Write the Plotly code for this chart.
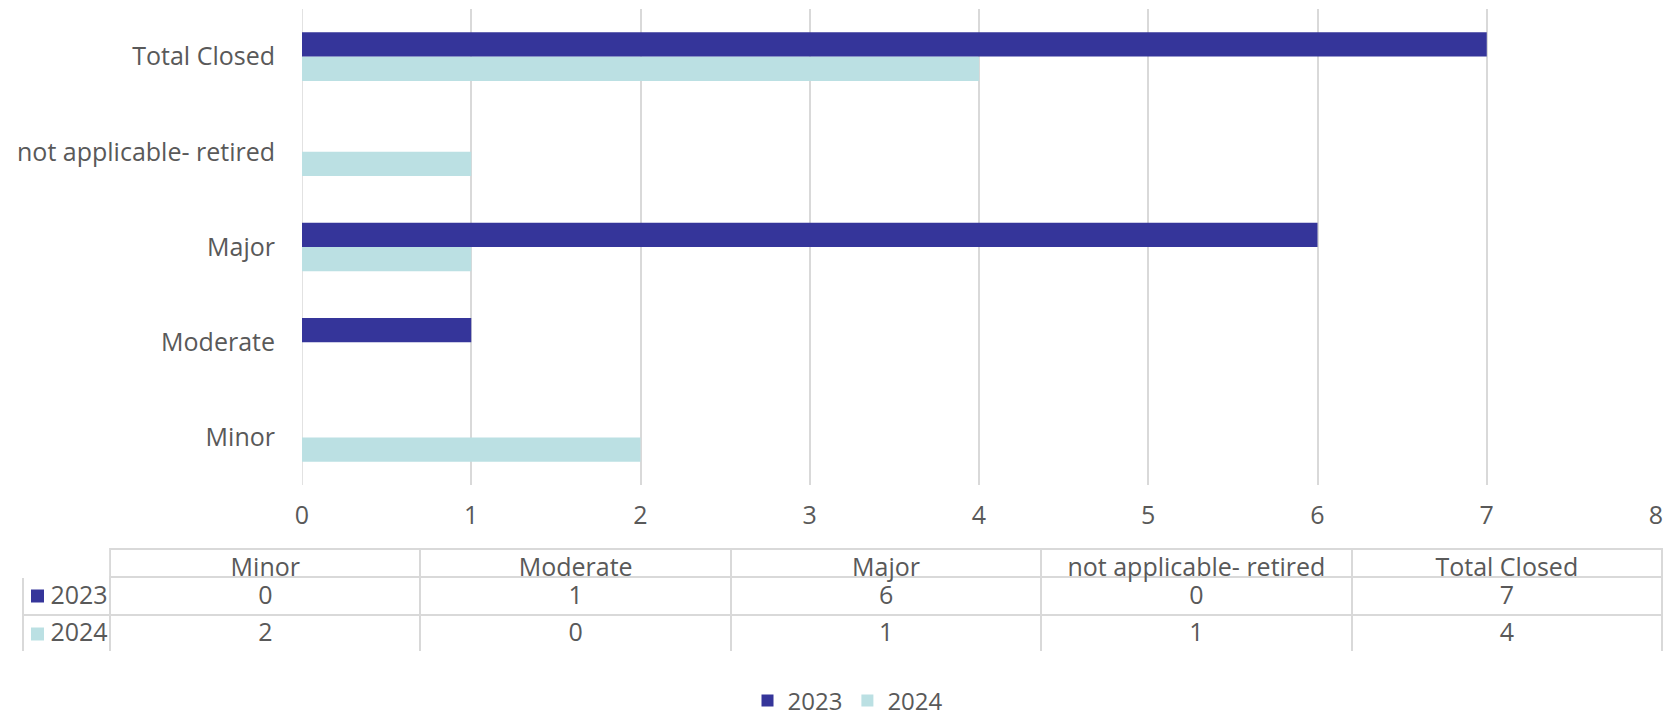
import plotly.graph_objects as go

categories = ['Minor', 'Moderate', 'Major', 'not applicable- retired', 'Total Closed']
vals_2023 = [0, 1, 6, 0, 7]
vals_2024 = [2, 0, 1, 1, 4]
series_names = ['2023', '2024']
x_ticks = [0, 1, 2, 3, 4, 5, 6, 7, 8]

col_2023 = '#35359a'
col_2024 = '#bbe0e3'
grey_txt = '#595959'
grid = '#d9d9d9'
font_fam = 'Open Sans, Lato, sans-serif'

# page body adds an 8px margin, so the figure is 8px smaller and every
# screen position below is shifted by that offset
OFF = 8
W, H = 1674 - OFF, 716 - OFF


def fx(px):
    return (px - OFF) / W


def fy(py):
    return 1 - (py - OFF) / H


fig = go.Figure()
# 2024 added first so that 2023 sits on top in each group
fig.add_trace(go.Bar(name=series_names[1], y=categories, x=vals_2024, orientation='h',
                     marker=dict(color=col_2024, line=dict(width=0))))
fig.add_trace(go.Bar(name=series_names[0], y=categories, x=vals_2023, orientation='h',
                     marker=dict(color=col_2023, line=dict(width=0))))

# data table under the chart
nb = '\u00a0'
first_col = [nb * 3 + s for s in series_names]
cell_cols = [first_col] + [[a, b] for a, b in zip(vals_2023, vals_2024)]
tbl_top, tbl_bot = 549, 652
fig.add_trace(go.Table(
    domain=dict(x=[fx(23), fx(1662)], y=[fy(tbl_bot), fy(tbl_top)]),
    columnwidth=[87] + [310] * len(categories),
    header=dict(values=[''] + categories, height=28,
                line=dict(color=['white'] + [grid] * len(categories), width=2),
                fill=dict(color='white'), align='center',
                font=dict(family=font_fam, size=25, color=grey_txt)),
    cells=dict(values=cell_cols, height=37.5,
               line=dict(color=grid, width=2), fill=dict(color='white'),
               align=['left'] + ['center'] * len(categories),
               font=dict(family=font_fam, size=25, color=grey_txt)),
))

# coloured keys in the first table column
for colr, row_mid in [(col_2023, 596), (col_2024, 634)]:
    fig.add_shape(type='rect', xref='paper', yref='paper', layer='above',
                  x0=fx(31), x1=fx(44), y0=fy(row_mid + 6.5), y1=fy(row_mid - 6.5),
                  fillcolor=colr, line=dict(width=0))

fig.update_layout(
    width=W, height=H,
    margin=dict(l=0, r=0, t=0, b=0, autoexpand=False),
    plot_bgcolor='white', paper_bgcolor='white',
    barmode='group', bargap=0.49, bargroupgap=0,
    font=dict(family=font_fam, size=25, color=grey_txt),
    showlegend=True,
    legend=dict(orientation='h', x=fx(848), xanchor='center', y=fy(701), yanchor='middle',
                traceorder='reversed', font=dict(size=24, color=grey_txt)),
    xaxis=dict(domain=[fx(302), fx(1656)], range=[0, 8], tickvals=x_ticks,
               showgrid=True, gridcolor=grid, gridwidth=1.5, zeroline=False,
               showline=False, ticks='', ticklabelstandoff=13, automargin=False),
    yaxis=dict(domain=[fy(485), fy(9)], categoryorder='array', categoryarray=categories,
               showgrid=False, showline=False, ticks='', ticklabelstandoff=26, automargin=False),
)
fig.add_shape(type='line', xref='x', yref='paper', x0=0, x1=0, y0=fy(485), y1=fy(9),
              line=dict(color=grid, width=1.5), layer='below')

fig.write_html("out.html")
